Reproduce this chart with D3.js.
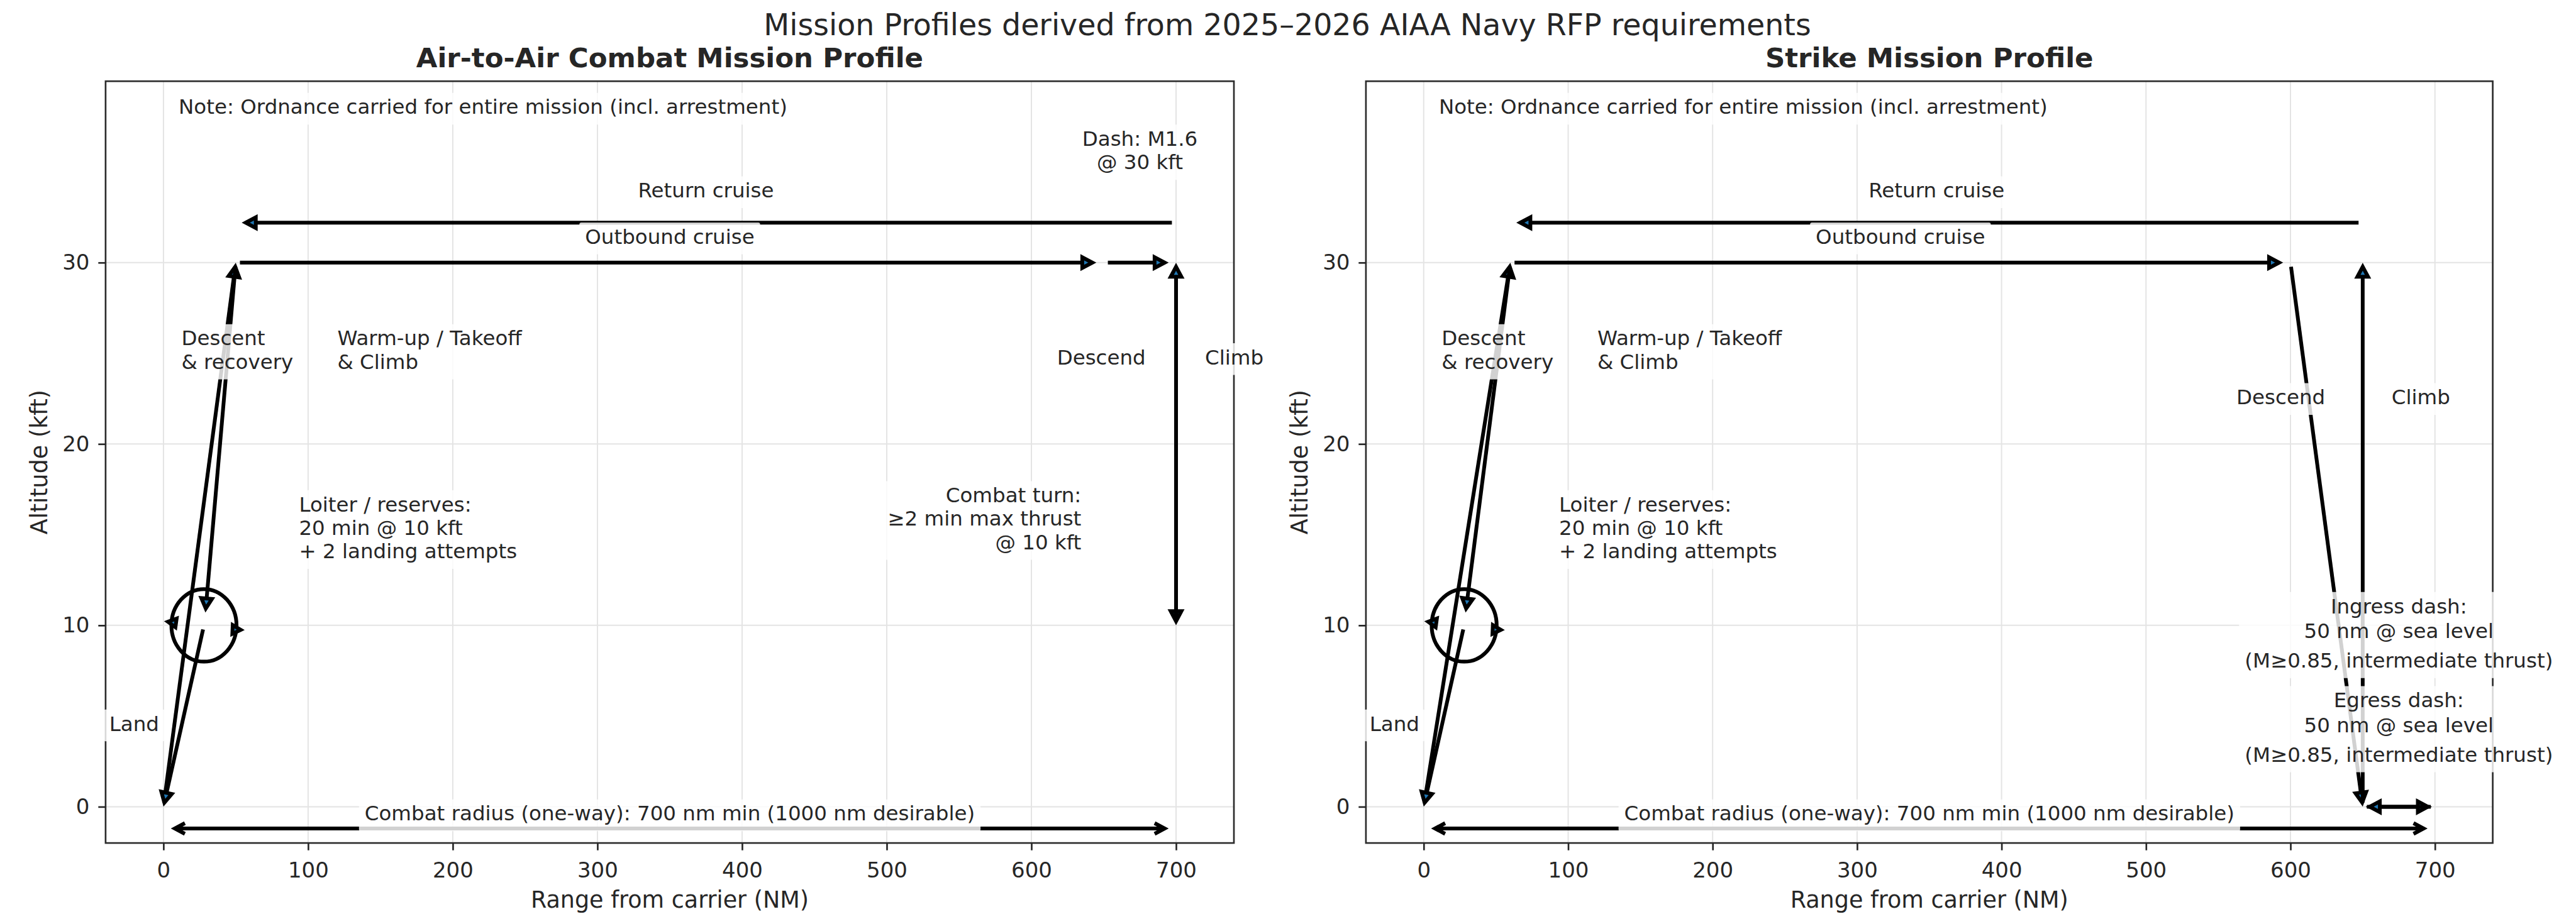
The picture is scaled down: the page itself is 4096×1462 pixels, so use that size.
<!DOCTYPE html>
<html>
<head>
<meta charset="utf-8">
<script src="https://d3js.org/d3.v7.min.js"></script>
<style>
body { margin: 0; background: #fff; }
svg text { font-family: "DejaVu Sans", sans-serif; fill: #262626; }
</style>
</head>
<body>
<svg id="chart" width="4096" height="1462"></svg>
<script>
// ---- data -------------------------------------------------------------
var suptitle = "Mission Profiles derived from 2025\u20132026 AIAA Navy RFP requirements";
var xDomain = [-40, 740];
var yDomain = [-2, 40];
var xTicks = [0, 100, 200, 300, 400, 500, 600, 700];
var yTicks = [0, 10, 20, 30];

// mission legs [x1, y1, x2, y2] (NM, kft), arrow head at the second point
var aaLegs = [
  [0, 0, 50, 30],          // warm-up / takeoff & climb
  [50, 30, 645, 30],       // outbound cruise
  [650, 30, 695, 30],      // dash
  [700, 30, 700, 10],      // descend to combat
  [700, 10, 700, 30],      // climb after combat
  [700, 32.2, 54, 32.2],   // return cruise
  [50, 30, 29, 10.7],      // descent & recovery
  [28, 10, 0, 0]           // land
];
var strikeLegs = [
  [0, 0, 60, 30],
  [60, 30, 595, 30],
  [600, 30, 650, 0],       // descend
  [650, 0, 698, 0],        // ingress dash
  [700, 0, 652, 0],        // egress dash
  [650, 0, 650, 30],       // climb
  [650, 32.2, 64, 32.2],   // return cruise
  [60, 30, 29, 10.7],
  [28, 10, 0, 0]
];
var radiusLeg = [5, -1.2, 695, -1.2];          // two-headed open arrow
var loiter = { cx: 28, cy: 10, rx: 22.5, ry: 2.0 };
var loiterHeads = [[12, 10.1, 3.1, 10.2], [45, 9.78, 53.4, 9.75]];

var commonLabels = [
  { t: ["Note: Ordnance carried for entire mission (incl. arrestment)"], x: 10.5, y: 38.6, a: "start" },
  { t: ["Descent", "& recovery"], x: 12.4, y: 25.2, a: "start" },
  { t: ["Warm-up / Takeoff", "& Climb"], x: 120.2, y: 25.2, a: "start" },
  { t: ["Loiter / reserves:", "20 min @ 10 kft", "+ 2 landing attempts"], x: 93.7, y: 15.4, a: "start" },
  { t: ["Land"], x: -3, y: 4.6, a: "end" },
  { t: ["Combat radius (one-way): 700 nm min (1000 nm desirable)"], x: 350, y: -0.35, a: "middle" }
];
var aaLabels = [
  { t: ["Dash: M1.6", "@ 30 kft"], x: 675, y: 36.2, a: "middle" },
  { t: ["Return cruise"], x: 375, y: 34.0, a: "middle" },
  { t: ["Outbound cruise"], x: 350, y: 31.45, a: "middle" },
  { t: ["Descend"], x: 679, y: 24.8, a: "end" },
  { t: ["Climb"], x: 720, y: 24.8, a: "start" },
  { t: ["Combat turn:", "\u22652 min max thrust", "@ 10 kft"], x: 634.5, y: 15.9, a: "end" }
];
var strikeLabels = [
  { t: ["Return cruise"], x: 355, y: 34.0, a: "middle" },
  { t: ["Outbound cruise"], x: 330, y: 31.45, a: "middle" },
  { t: ["Descend"], x: 624, y: 22.6, a: "end" },
  { t: ["Climb"], x: 670, y: 22.6, a: "start" },
  { t: ["Ingress dash:", "50 nm @ sea level", "(M\u22650.85, intermediate thrust)"], x: 675, y: 9.58, a: "middle" },
  { t: ["Egress dash:", "50 nm @ sea level", "(M\u22650.85, intermediate thrust)"], x: 675, y: 4.39, a: "middle" }
];

// ---- layout -----------------------------------------------------------
var plotTop = 129.2, plotBottom = 1341.1;
var panels = [
  { title: "Air-to-Air Combat Mission Profile", left: 167.9, right: 1962.0, legs: aaLegs, labels: commonLabels.concat(aaLabels) },
  { title: "Strike Mission Profile", left: 2171.9, right: 3963.6, legs: strikeLegs, labels: commonLabels.concat(strikeLabels) }
];
var FS_TICK = 34, FS_LABEL = 36.5, FS_NOTE = 32.5, PAD = 9;
var LW = 6, HL = 16, HW = 8.5, SHRINK = 6.6;

var svg = d3.select("#chart");

svg.append("text").attr("x", 2047).attr("y", 56.4).attr("text-anchor", "middle")
  .style("font-size", "47.5px").text(suptitle);

function lineOffsets(lines) {
  // the ingress/egress blocks are spaced a bit wider in the original
  if (lines[lines.length - 1].charAt(0) == "(") return [0, 39.5, 86.5];
  return lines.map(function (d, i) { return i * 1.148 * FS_NOTE; });
}

function arrow(g, x, y, p, opts) {
  opts = opts || {};
  var x1 = x(p[0]), y1 = y(p[1]), x2 = x(p[2]), y2 = y(p[3]);
  var dx = x2 - x1, dy = y2 - y1, len = Math.hypot(dx, dy);
  var ux = dx / len, uy = dy / len, nx = -uy, ny = ux;
  var s = opts.shrink == null ? SHRINK : opts.shrink;
  var hl = opts.hl || HL, hw = opts.hw || HW;
  var ax = x1 + ux * s, ay = y1 + uy * s, bx = x2 - ux * s, by = y2 - uy * s;
  if (opts.open) {
    g.append("line").attr("x1", ax).attr("y1", ay).attr("x2", bx).attr("y2", by)
      .attr("stroke", "#000").attr("stroke-width", LW);
    [[bx, by, -1], [ax, ay, 1]].forEach(function (t) {
      var cx = t[0] + t[2] * ux * hl, cy = t[1] + t[2] * uy * hl;
      g.append("path")
        .attr("d", "M" + (cx + nx * hw) + "," + (cy + ny * hw) + "L" + t[0] + "," + t[1] + "L" + (cx - nx * hw) + "," + (cy - ny * hw))
        .attr("fill", "none").attr("stroke", "#000").attr("stroke-width", LW)
        .attr("stroke-linejoin", "miter").attr("stroke-miterlimit", 10);
    });
    return;
  }
  var hx = bx - ux * hl, hy = by - uy * hl;
  if (!opts.noShaft) {
    g.append("line").attr("x1", ax).attr("y1", ay).attr("x2", hx + ux * 2).attr("y2", hy + uy * 2)
      .attr("stroke", "#000").attr("stroke-width", LW);
  }
  g.append("path")
    .attr("d", "M" + bx + "," + by + "L" + (hx + nx * hw) + "," + (hy + ny * hw) + "L" + (hx - nx * hw) + "," + (hy - ny * hw) + "Z")
    .attr("fill", "#1f77b4").attr("stroke", "#000").attr("stroke-width", LW)
    .attr("stroke-linejoin", "miter").attr("stroke-miterlimit", 10);
}

function label(g, x, y, lab) {
  var fs = FS_NOTE, n = lab.t.length, offs = lineOffsets(lab.t);
  var capH = 0.729 * fs;
  var b0 = y(lab.y) - (offs[n - 1] + capH) / 2 + capH;
  var px = x(lab.x);
  var box = g.append("rect");
  var txt = g.append("text").attr("text-anchor", lab.a).style("font-size", fs + "px");
  var widths = [];
  lab.t.forEach(function (line, i) {
    var ts = txt.append("tspan").attr("x", px).attr("y", b0 + offs[i]).text(line);
    widths.push(ts.node().getComputedTextLength());
  });
  var w = d3.max(widths);
  var left = lab.a == "start" ? px : lab.a == "end" ? px - w : px - w / 2;
  box.attr("x", left - PAD).attr("y", b0 - 0.76 * fs - PAD)
    .attr("width", w + 2 * PAD).attr("height", offs[n - 1] + fs + 2 * PAD)
    .attr("rx", 3).attr("fill", "#fff").attr("fill-opacity", 0.82);
}

panels.forEach(function (p) {
  var x = d3.scaleLinear().domain(xDomain).range([p.left, p.right]);
  var y = d3.scaleLinear().domain(yDomain).range([plotBottom, plotTop]);
  var g = svg.append("g");

  // grid
  g.selectAll(".gx").data(xTicks).enter().append("line")
    .attr("x1", function (d) { return x(d); }).attr("x2", function (d) { return x(d); })
    .attr("y1", plotTop).attr("y2", plotBottom)
    .attr("stroke", "#e4e4e4").attr("stroke-width", 2);
  g.selectAll(".gy").data(yTicks).enter().append("line")
    .attr("y1", function (d) { return y(d); }).attr("y2", function (d) { return y(d); })
    .attr("x1", p.left).attr("x2", p.right)
    .attr("stroke", "#e4e4e4").attr("stroke-width", 2);

  // loiter pattern
  g.append("ellipse").attr("cx", x(loiter.cx)).attr("cy", y(loiter.cy))
    .attr("rx", x(loiter.cx + loiter.rx) - x(loiter.cx))
    .attr("ry", y(loiter.cy) - y(loiter.cy + loiter.ry))
    .attr("fill", "none").attr("stroke", "#000").attr("stroke-width", LW);

  // axes
  var ax = g.append("g").attr("transform", "translate(0," + plotBottom + ")")
    .call(d3.axisBottom(x).tickValues(xTicks).tickSize(11.6).tickPadding(19.2));
  var ay = g.append("g").attr("transform", "translate(" + p.left + ",0)")
    .call(d3.axisLeft(y).tickValues(yTicks).tickSize(11.6).tickPadding(13.9));
  [ax, ay].forEach(function (a) {
    a.attr("font-family", "DejaVu Sans").attr("font-size", FS_TICK).attr("color", "#262626");
    a.select(".domain").remove();
    a.selectAll(".tick line").attr("stroke-width", 2.65);
  });
  g.append("rect").attr("x", p.left).attr("y", plotTop)
    .attr("width", p.right - p.left).attr("height", plotBottom - plotTop)
    .attr("fill", "none").attr("stroke", "#2b2b2b").attr("stroke-width", 2.65);

  // axis labels and title
  g.append("text").attr("x", (p.left + p.right) / 2).attr("y", 1444).attr("text-anchor", "middle")
    .style("font-size", FS_LABEL + "px").text("Range from carrier (NM)");
  g.append("text").attr("transform", "translate(" + (p.left - 93.3) + "," + ((plotTop + plotBottom) / 2) + ") rotate(-90)")
    .attr("text-anchor", "middle").style("font-size", FS_LABEL + "px").text("Altitude (kft)");
  g.append("text").attr("x", (p.left + p.right) / 2).attr("y", 107).attr("text-anchor", "middle")
    .style("font-size", "43.5px").style("font-weight", "bold").text(p.title);

  // mission legs
  p.legs.forEach(function (l) { arrow(g, x, y, l); });
  arrow(g, x, y, radiusLeg, { open: true });
  loiterHeads.forEach(function (l) { arrow(g, x, y, l, { shrink: 0, noShaft: true, hl: 13, hw: 7 }); });

  // annotations
  p.labels.forEach(function (lab) { label(g, x, y, lab); });
});
</script>
</body>
</html>
